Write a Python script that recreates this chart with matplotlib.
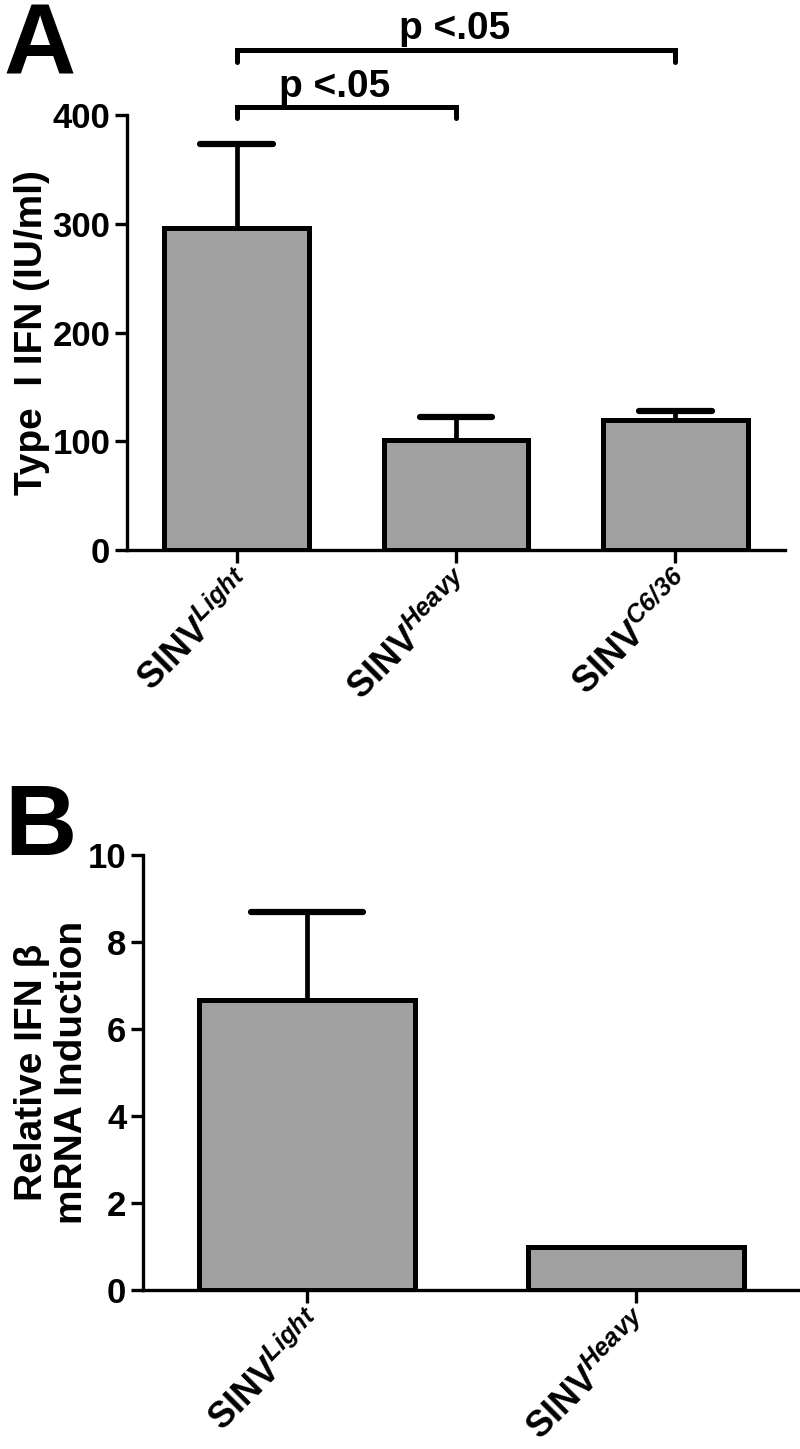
import numpy as np
import matplotlib
matplotlib.use('Agg')
import matplotlib.pyplot as plt

plt.rcParams['font.family'] = ['Liberation Sans', 'DejaVu Sans']
plt.rcParams['font.weight'] = 'bold'
plt.rcParams['axes.labelweight'] = 'bold'
plt.rcParams['mathtext.fontset'] = 'custom'
plt.rcParams['mathtext.rm'] = 'Liberation Sans:bold'
plt.rcParams['mathtext.bf'] = 'Liberation Sans:bold'
plt.rcParams['mathtext.it'] = 'Liberation Sans:italic:bold'
plt.rcParams['mathtext.bfit'] = 'Liberation Sans:italic:bold'

# Panel A data
labels_a = [r'$\mathbf{SINV}^{\mathbfit{Light}}$',
            r'$\mathbf{SINV}^{\mathbfit{Heavy}}$',
            r'$\mathbf{SINV}^{\mathbfit{C6/36}}$']
ifn_a = [296, 101, 120]
sem_a = [77, 21, 8]
yticks_a = [0, 100, 200, 300, 400]

# Panel B data
labels_b = [r'$\mathbf{SINV}^{\mathbfit{Light}}$',
            r'$\mathbf{SINV}^{\mathbfit{Heavy}}$']
ifn_b = [6.67, 1.0]
sem_b = [2.02, 0.0]
yticks_b = [0, 2, 4, 6, 8, 10]

bar_color = '#a0a0a0'
fs_tick = 25
fs_xlab = 26

fig = plt.figure(figsize=(8, 14.49), dpi=100)


def style_axes(ax):
    for s in ['top', 'right']:
        ax.spines[s].set_visible(False)
    for s in ['left', 'bottom']:
        ax.spines[s].set_linewidth(2.4)
    ax.tick_params(axis='y', length=9, width=2.4, labelsize=fs_tick, pad=3)
    ax.tick_params(axis='x', length=9, width=2.4, labelsize=fs_xlab, pad=3)


def upper_errors(ax, x, vals, errs, half):
    for xi, v, e in zip(x, vals, errs):
        if e <= 0:
            continue
        ax.vlines(xi, v, v + e, color='black', lw=3.4, zorder=2)
        ax.hlines(v + e, xi - half, xi + half, color='black', lw=4.5,
                  capstyle='round', zorder=2)


# ---- Panel A ----
axA = fig.add_axes([127/800, 1-550/1449, (785-127)/800, (550-115)/1449])
xa = np.arange(len(ifn_a))
axA.bar(xa, ifn_a, width=0.66, color=bar_color, edgecolor='black', linewidth=3.6, zorder=3)
upper_errors(axA, xa, ifn_a, sem_a, 0.165)
axA.set_xlim(-0.5, 2.5)
axA.set_ylim(0, 400)
axA.set_yticks(yticks_a)
axA.set_xticks(xa)
axA.set_xticklabels(labels_a, rotation=45, ha='right', va='top', rotation_mode='anchor')
axA.set_ylabel('Type  I IFN (IU/ml)', fontsize=28, labelpad=2)
style_axes(axA)

# significance brackets
brackets = [(0, 1, 407, 397, 0.195, 417), (0, 2, 460, 449, 0.74, 470)]
for x0, x1, yb, yl, xt, yt in brackets:
    axA.plot([x0, x0, x1, x1], [yl, yb, yb, yl], color='black', lw=3.6,
             clip_on=False, solid_capstyle='round', solid_joinstyle='miter')
    axA.text(xt, yt, 'p <.05', fontsize=28, ha='left', va='baseline')

fig.text(0.005, 0.999, 'A', fontsize=72, fontweight='bold', ha='left', va='top')

# ---- Panel B ----
axB = fig.add_axes([143/800, 1-1290/1449, (800-143)/800, (1290-855)/1449])
xb = np.arange(len(ifn_b))
axB.bar(xb, ifn_b, width=0.657, color=bar_color, edgecolor='black', linewidth=3.6, zorder=3)
upper_errors(axB, xb, ifn_b, sem_b, 0.17)
axB.set_xlim(-0.5, 1.5)
axB.set_ylim(0, 10)
axB.set_yticks(yticks_b)
axB.set_xticks(xb)
axB.set_xticklabels(labels_b, rotation=45, ha='right', va='top', rotation_mode='anchor')
axB.set_ylabel('Relative IFN β\nmRNA Induction', fontsize=28, labelpad=-2, linespacing=1.15)
style_axes(axB)

fig.text(0.005, 1-782/1449, 'B', fontsize=72, fontweight='bold', ha='left', va='top')

fig.savefig('out.png', dpi=100)
